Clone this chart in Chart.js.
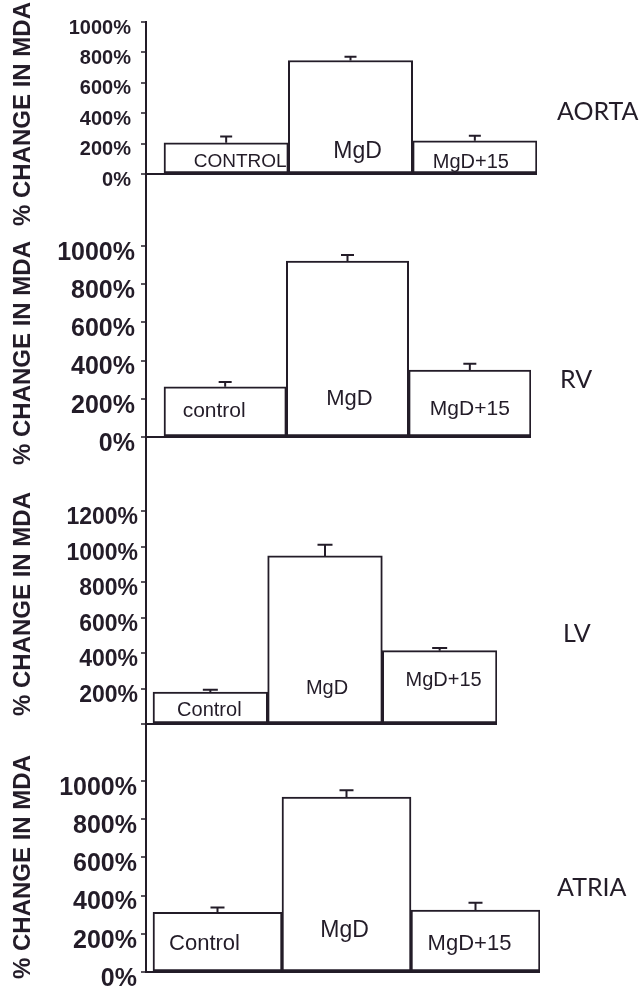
<!DOCTYPE html>
<html><head><meta charset="utf-8">
<script src="https://cdn.jsdelivr.net/npm/chart.js@4.4.1/dist/chart.umd.min.js"></script>
<style>
html,body{margin:0;padding:0;background:#fff;}
#wrap{position:relative;width:644px;height:989px;overflow:hidden;background:#fff;}
canvas{position:absolute;left:0;}
.ttl{position:absolute;left:22px;font:bold 24px "Liberation Sans",Arial,sans-serif;color:#231c28;white-space:nowrap;transform:translate(-50%,-50%) rotate(-90deg);}
.org{position:absolute;font:25px Lato,"Open Sans",sans-serif;color:#231c28;transform:translateY(-50%);white-space:nowrap;}
</style></head><body><div id="wrap"></div>
<script>
// ---- data ----
const categories = ['Control', 'MgD', 'MgD+15'];
const aortaValues = [205, 747, 218];
const aortaErrors = [42, 24, 33];
const rvValues = [263, 921, 351];
const rvErrors = [25, 32, 33];
const lvValues = [180, 947, 413];
const lvErrors = [13, 63, 15];
const atriaValues = [313, 916, 324];
const atriaErrors = [25, 35, 38];
const aortaBarLabels = ['CONTROL', 'MgD', 'MgD+15'];
const rvBarLabels = ['control', 'MgD', 'MgD+15'];
const lvBarLabels = ['Control', 'MgD', 'MgD+15'];
const atriaBarLabels = ['Control', 'MgD', 'MgD+15'];
const panelNames = ['AORTA', 'RV', 'LV', 'ATRIA'];
const yAxisTitle = '% CHANGE IN MDA';
const aortaTicks = [0, 200, 400, 600, 800, 1000];
const rvTicks = [0, 200, 400, 600, 800, 1000];
const lvTicks = [0, 200, 400, 600, 800, 1000, 1200];
const atriaTicks = [0, 200, 400, 600, 800, 1000];

// ---- layout / style ----
const INK = '#231c28';
const PAD = 28;
const layouts = [
  {areaTop:22, areaBottom:210, zeroPx:174, topPx:22, topVal:1000, left:146, barStart:164, right:537,
   tickFont:20, tickPad:10, labelOffset:6, hideZero:false,
   barFont:[19,23,20], dx:[14,7,-4], up:[12,22,12], capW:12, orgX:557, orgY:110, titleY:114},
  {areaTop:210, areaBottom:470, zeroPx:437, topPx:246, topVal:1000, left:146, barStart:164, right:531,
   tickFont:25, tickPad:6, labelOffset:7, hideZero:false,
   barFont:[21,22,21], dx:[-11,2,0], up:[26,38,28], capW:13, orgX:560, orgY:378, titleY:353},
  {areaTop:470, areaBottom:740, zeroPx:724, topPx:511, topVal:1200, left:146, barStart:153, right:497,
   tickFont:23, tickPad:3, labelOffset:7, hideZero:true,
   barFont:[20,20,20], dx:[-1,2,4], up:[14,36,44], capW:15, orgX:563, orgY:632, titleY:604},
  {areaTop:740, areaBottom:972, zeroPx:972, topPx:781, topVal:1000, left:146, barStart:153, right:540,
   tickFont:25, tickPad:4, labelOffset:7, hideZero:false,
   barFont:[22,23,22], dx:[-13,-2,-6], up:[28,41,28], capW:14, orgX:557, orgY:886, titleY:867}
];
const series = [
  {values:aortaValues, errors:aortaErrors, labels:aortaBarLabels, ticks:aortaTicks},
  {values:rvValues, errors:rvErrors, labels:rvBarLabels, ticks:rvTicks},
  {values:lvValues, errors:lvErrors, labels:lvBarLabels, ticks:lvTicks},
  {values:atriaValues, errors:atriaErrors, labels:atriaBarLabels, ticks:atriaTicks}
];

const annot = {
  id: 'annot',
  afterDatasetsDraw(chart, args, opts) {
    const s = opts.s, L = opts.L;
    const meta = chart.getDatasetMeta(0);
    const y = chart.scales.y;
    const ctx = chart.ctx;
    ctx.save();
    ctx.strokeStyle = INK; ctx.lineWidth = 2;
    meta.data.forEach((bar, i) => {
      const top = y.getPixelForValue(s.values[i]);
      const end = y.getPixelForValue(s.values[i] + s.errors[i]);
      ctx.beginPath();
      ctx.moveTo(bar.x, top); ctx.lineTo(bar.x, end);
      ctx.moveTo(bar.x - L.capW / 2, end); ctx.lineTo(bar.x + L.capW / 2, end);
      ctx.stroke();
      ctx.fillStyle = INK;
      ctx.font = L.barFont[i] + 'px "Liberation Sans", Arial, sans-serif';
      ctx.textAlign = 'center'; ctx.textBaseline = 'middle';
      ctx.fillText(s.labels[i], bar.x + L.dx[i], y.getPixelForValue(0) - L.up[i]);
    });
    ctx.restore();
  }
};

const wrap = document.getElementById('wrap');
layouts.forEach((L, k) => {
  const s = series[k];
  const ppu = (L.zeroPx - L.topPx) / L.topVal;
  const yMax = (L.zeroPx - L.areaTop) / ppu;
  const yMin = -(L.areaBottom - L.zeroPx) / ppu;
  const barW = (L.right - L.barStart) / 3;
  const xMin = 0.5 - (L.barStart - L.left) / barW;
  const cv = document.createElement('canvas');
  const h = L.areaBottom - L.areaTop + 2 * PAD;
  cv.width = 644; cv.height = h;
  cv.style.top = (L.areaTop - PAD) + 'px';
  cv.style.width = '644px'; cv.style.height = h + 'px';
  wrap.appendChild(cv);

  const t = document.createElement('div');
  t.className = 'ttl'; t.textContent = yAxisTitle; t.style.top = L.titleY + 'px';
  wrap.appendChild(t);
  const o = document.createElement('div');
  o.className = 'org'; o.textContent = panelNames[k];
  o.style.left = L.orgX + 'px'; o.style.top = L.orgY + 'px';
  wrap.appendChild(o);

  new Chart(cv, {
    type: 'bar',
    data: {
      datasets: [{
        label: panelNames[k],
        data: s.values.map((v, i) => ({x: i + 1, y: v, c: categories[i]})),
        backgroundColor: '#ffffff',
        borderColor: INK,
        borderWidth: 2,
        borderSkipped: false,
        barPercentage: 1,
        categoryPercentage: 1
      }]
    },
    options: {
      responsive: false, animation: false, devicePixelRatio: 1, events: [],
      layout: {padding: {top: PAD, bottom: PAD, left: 0, right: 644 - L.right}},
      plugins: {legend: {display: false}, tooltip: {enabled: false}, annot: {s, L}},
      scales: {
        x: {
          type: 'linear', min: xMin, max: 3.5, display: false, offset: false,
          grid: {offset: false},
          afterBuildTicks: ax => { ax.ticks = [{value: 1}, {value: 2}, {value: 3}]; }
        },
        y: {
          type: 'linear', min: yMin, max: yMax,
          afterBuildTicks: ax => { ax.ticks = s.ticks.map(v => ({value: v})); },
          afterFit: sc => { sc.width = L.left; },
          border: {display: true, color: INK, width: 2},
          grid: {
            color: c => (c.tick && c.tick.value === 0) ? INK : 'rgba(0,0,0,0)',
            lineWidth: 2, tickColor: INK, tickLength: 5, tickWidth: 1.5
          },
          ticks: {
            callback: v => (L.hideZero && v === 0) ? '' : v + '%',
            font: {family: '"Liberation Sans", Arial, sans-serif', size: L.tickFont, weight: 'bold'},
            color: INK, padding: L.tickPad, labelOffset: L.labelOffset
          }
        }
      }
    },
    plugins: [annot]
  });
});
</script></body></html>
